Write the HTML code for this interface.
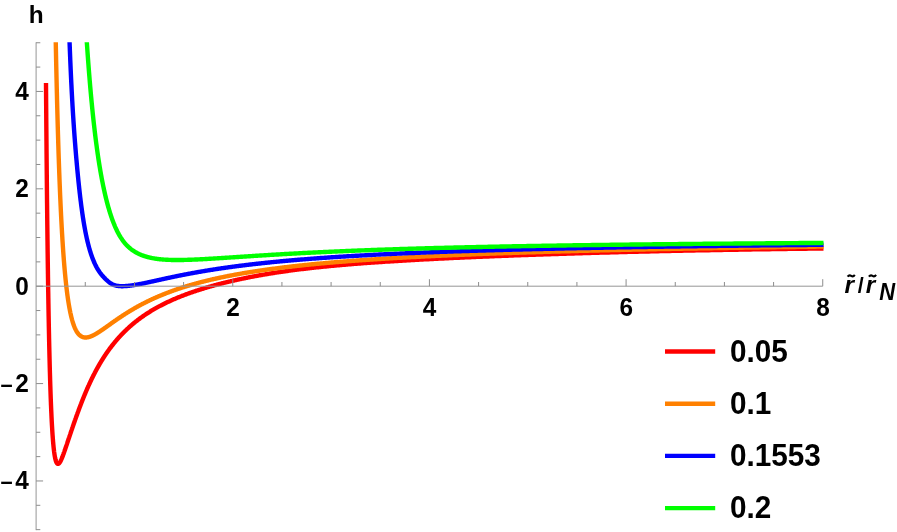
<!DOCTYPE html>
<html><head><meta charset="utf-8"><title>plot</title>
<style>html,body{margin:0;padding:0;background:#fff;}svg{display:block;will-change:transform;}</style></head>
<body><svg width="897" height="532" viewBox="0 0 897 532">
<rect width="897" height="532" fill="#fff"/>
<clipPath id="c"><rect x="30" y="42.3" width="900" height="489.7"/></clipPath>
<g clip-path="url(#c)" fill="none" stroke-width="4.40" stroke-linejoin="round" stroke-linecap="butt">
<path d="M46.00,83.10 L46.00,83.87 L46.04,88.86 L46.08,93.80 L46.11,98.69 L46.15,103.54 L46.19,108.33 L46.23,113.08 L46.26,117.79 L46.30,122.44 L46.34,127.05 L46.38,131.62 L46.42,136.14 L46.46,140.61 L46.50,145.04 L46.53,149.42 L46.57,153.76 L46.61,158.06 L46.65,162.31 L46.69,166.52 L46.73,170.69 L46.77,174.81 L46.81,178.89 L46.85,182.93 L46.89,186.93 L46.93,190.88 L46.97,194.80 L47.01,198.67 L47.05,202.51 L47.10,206.30 L47.14,210.05 L47.18,213.77 L47.22,217.44 L47.26,221.08 L47.30,224.68 L47.35,228.24 L47.39,231.76 L47.43,235.24 L47.47,238.69 L47.52,242.10 L47.56,245.47 L47.60,248.80 L47.64,252.10 L47.69,255.37 L47.73,258.59 L47.77,261.78 L47.82,264.94 L47.86,268.06 L47.91,271.15 L47.95,274.20 L47.99,277.22 L48.04,280.20 L48.08,283.15 L48.13,286.07 L48.17,288.95 L48.22,291.80 L48.27,294.62 L48.31,297.41 L48.36,300.16 L48.40,302.88 L48.45,305.57 L48.49,308.23 L48.54,310.86 L48.59,313.46 L48.63,316.02 L48.68,318.56 L48.73,321.06 L48.78,323.54 L48.82,325.99 L48.87,328.40 L48.92,330.79 L48.97,333.15 L49.02,335.48 L49.06,337.78 L49.11,340.05 L49.16,342.30 L49.21,344.51 L49.26,346.70 L49.31,348.86 L49.36,351.00 L49.41,353.11 L49.46,355.19 L49.51,357.24 L49.56,359.27 L49.61,361.27 L49.66,363.24 L49.71,365.19 L49.76,367.12 L49.81,369.02 L49.86,370.89 L49.92,372.74 L49.97,374.56 L50.02,376.36 L50.07,378.14 L50.12,379.89 L50.18,381.62 L50.23,383.32 L50.28,385.00 L50.34,386.66 L50.39,388.29 L50.44,389.90 L50.50,391.49 L50.55,393.06 L50.61,394.60 L50.66,396.12 L50.71,397.62 L50.77,399.10 L50.82,400.55 L50.88,401.99 L50.93,403.40 L50.99,404.79 L51.05,406.16 L51.10,407.52 L51.16,408.85 L51.22,410.15 L51.27,411.44 L51.33,412.71 L51.39,413.96 L51.44,415.19 L51.50,416.40 L51.56,417.59 L51.62,418.77 L51.67,419.92 L51.73,421.05 L51.79,422.17 L51.85,423.27 L51.91,424.34 L51.97,425.40 L52.03,426.45 L52.09,427.47 L52.15,428.48 L52.21,429.47 L52.27,430.44 L52.33,431.39 L52.39,432.33 L52.45,433.25 L52.51,434.16 L52.57,435.04 L52.64,435.92 L52.70,436.77 L52.76,437.61 L52.82,438.43 L52.89,439.24 L52.95,440.03 L53.01,440.80 L53.07,441.56 L53.14,442.31 L53.20,443.03 L53.27,443.75 L53.33,444.45 L53.40,445.13 L53.46,445.80 L53.53,446.45 L53.59,447.10 L53.66,447.72 L53.72,448.33 L53.79,448.93 L53.85,449.52 L53.92,450.09 L53.99,450.64 L54.06,451.19 L54.12,451.72 L54.19,452.23 L54.26,452.74 L54.33,453.23 L54.39,453.70 L54.46,454.17 L54.53,454.62 L54.60,455.06 L54.67,455.49 L54.74,455.90 L54.81,456.30 L54.88,456.69 L54.95,457.07 L55.02,457.44 L55.09,457.79 L55.16,458.14 L55.24,458.47 L55.31,458.79 L55.38,459.10 L55.45,459.40 L55.52,459.69 L55.60,459.96 L55.67,460.23 L55.74,460.48 L55.82,460.73 L55.89,460.96 L55.97,461.19 L56.04,461.40 L56.11,461.61 L56.19,461.80 L56.26,461.99 L56.34,462.16 L56.42,462.33 L56.49,462.48 L56.57,462.63 L56.65,462.77 L56.72,462.90 L56.80,463.02 L56.88,463.13 L56.96,463.24 L57.03,463.33 L57.11,463.42 L57.19,463.50 L57.27,463.57 L57.35,463.63 L57.43,463.69 L57.51,463.73 L57.59,463.77 L57.67,463.80 L57.75,463.83 L57.83,463.84 L57.91,463.85 L58.00,463.85 L58.08,463.85 L58.16,463.84 L58.24,463.82 L58.33,463.79 L58.41,463.76 L58.49,463.72 L58.58,463.67 L58.66,463.62 L58.75,463.56 L58.83,463.50 L58.92,463.43 L59.00,463.35 L59.09,463.27 L59.17,463.18 L59.26,463.08 L59.35,462.98 L59.43,462.88 L59.52,462.76 L59.61,462.65 L59.70,462.52 L59.79,462.39 L59.88,462.26 L59.96,462.12 L60.05,461.98 L60.14,461.83 L60.23,461.67 L60.32,461.52 L60.42,461.35 L60.51,461.18 L60.60,461.01 L60.69,460.83 L60.78,460.65 L60.87,460.46 L60.97,460.27 L61.06,460.08 L61.15,459.88 L61.25,459.67 L61.34,459.47 L61.44,459.25 L61.53,459.04 L61.63,458.82 L61.72,458.59 L61.82,458.37 L61.92,458.14 L62.01,457.90 L62.11,457.66 L62.21,457.42 L62.31,457.17 L62.40,456.92 L62.50,456.67 L62.60,456.42 L62.70,456.16 L62.80,455.89 L62.90,455.63 L63.00,455.36 L63.10,455.09 L63.20,454.81 L63.31,454.54 L63.41,454.26 L63.51,453.97 L63.61,453.69 L63.72,453.40 L63.82,453.11 L63.92,452.81 L64.03,452.52 L64.13,452.22 L64.24,451.92 L64.34,451.62 L64.45,451.31 L64.56,451.00 L64.66,450.69 L64.77,450.38 L64.88,450.07 L64.98,449.75 L65.09,449.43 L65.20,449.11 L65.31,448.79 L65.42,448.47 L65.53,448.14 L65.64,447.82 L65.75,447.49 L65.86,447.16 L65.97,446.83 L66.09,446.49 L66.20,446.16 L66.31,445.82 L66.42,445.48 L66.54,445.15 L66.65,444.80 L66.77,444.46 L66.88,444.12 L67.00,443.78 L67.11,443.43 L67.23,443.08 L67.35,442.73 L67.46,442.38 L67.58,442.03 L67.70,441.68 L67.82,441.32 L67.94,440.97 L68.06,440.61 L68.18,440.25 L68.30,439.90 L68.42,439.53 L68.54,439.17 L68.66,438.81 L68.78,438.45 L68.90,438.08 L69.03,437.71 L69.15,437.34 L69.28,436.98 L69.40,436.60 L69.52,436.23 L69.65,435.86 L69.78,435.49 L69.90,435.11 L70.03,434.73 L70.16,434.36 L70.28,433.98 L70.41,433.60 L70.54,433.22 L70.67,432.83 L70.80,432.45 L70.93,432.07 L71.06,431.68 L71.19,431.29 L71.32,430.91 L71.46,430.52 L71.59,430.13 L71.72,429.74 L71.85,429.34 L71.99,428.95 L72.12,428.56 L72.26,428.16 L72.39,427.77 L72.53,427.37 L72.67,426.97 L72.80,426.57 L72.94,426.17 L73.08,425.77 L73.22,425.37 L73.36,424.97 L73.50,424.56 L73.64,424.16 L73.78,423.75 L73.92,423.35 L74.06,422.94 L74.20,422.53 L74.35,422.12 L74.49,421.71 L74.63,421.30 L74.78,420.89 L74.92,420.48 L75.07,420.06 L75.22,419.65 L75.36,419.23 L75.51,418.82 L75.66,418.40 L75.81,417.99 L75.95,417.57 L76.10,417.15 L76.25,416.73 L76.40,416.31 L76.56,415.89 L76.71,415.47 L76.86,415.05 L77.01,414.62 L77.17,414.20 L77.32,413.77 L77.47,413.35 L77.63,412.92 L77.79,412.50 L77.94,412.07 L78.10,411.64 L78.26,411.22 L78.41,410.79 L78.57,410.36 L78.73,409.93 L78.89,409.50 L79.05,409.07 L79.21,408.64 L79.38,408.20 L79.54,407.77 L79.70,407.34 L79.86,406.90 L80.03,406.47 L80.19,406.04 L80.36,405.60 L80.52,405.17 L80.69,404.73 L80.86,404.29 L81.03,403.86 L81.19,403.42 L81.36,402.98 L81.53,402.54 L81.70,402.11 L81.88,401.67 L82.05,401.23 L82.22,400.79 L82.39,400.35 L82.57,399.91 L82.74,399.48 L82.91,399.04 L83.09,398.60 L83.27,398.16 L83.44,397.72 L83.62,397.28 L83.80,396.84 L83.98,396.40 L84.16,395.96 L84.34,395.52 L84.52,395.08 L84.70,394.64 L84.88,394.20 L85.07,393.76 L85.25,393.32 L85.43,392.88 L85.62,392.44 L85.80,392.00 L85.99,391.56 L86.18,391.13 L86.37,390.69 L86.55,390.25 L86.74,389.81 L86.93,389.37 L87.12,388.93 L87.32,388.50 L87.51,388.06 L87.70,387.62 L87.89,387.18 L88.09,386.75 L88.28,386.31 L88.48,385.87 L88.68,385.44 L88.87,385.00 L89.07,384.57 L89.27,384.13 L89.47,383.70 L89.67,383.27 L89.87,382.83 L90.07,382.40 L90.27,381.97 L90.48,381.53 L90.68,381.10 L90.89,380.67 L91.09,380.24 L91.30,379.81 L91.50,379.38 L91.71,378.95 L91.92,378.52 L92.13,378.09 L92.34,377.67 L92.55,377.24 L92.76,376.81 L92.98,376.38 L93.19,375.96 L93.40,375.53 L93.62,375.11 L93.83,374.68 L94.05,374.26 L94.27,373.84 L94.49,373.42 L94.70,372.99 L94.92,372.57 L95.14,372.15 L95.37,371.73 L95.59,371.31 L95.81,370.90 L96.04,370.48 L96.26,370.06 L96.49,369.64 L96.71,369.23 L96.94,368.81 L97.17,368.40 L97.40,367.99 L97.63,367.57 L97.86,367.16 L98.09,366.75 L98.32,366.34 L98.55,365.93 L98.79,365.52 L99.02,365.11 L99.26,364.70 L99.50,364.29 L99.73,363.89 L99.97,363.48 L100.21,363.08 L100.45,362.67 L100.69,362.27 L100.94,361.87 L101.18,361.47 L101.42,361.07 L101.67,360.67 L101.92,360.27 L102.16,359.87 L102.41,359.47 L102.66,359.07 L102.91,358.68 L103.16,358.28 L103.41,357.89 L103.66,357.49 L103.92,357.10 L104.17,356.71 L104.43,356.32 L104.68,355.93 L104.94,355.54 L105.20,355.15 L105.46,354.76 L105.72,354.38 L105.98,353.99 L106.24,353.61 L106.50,353.22 L106.77,352.84 L107.03,352.46 L107.30,352.07 L107.56,351.69 L107.83,351.31 L108.10,350.94 L108.37,350.56 L108.64,350.18 L108.92,349.80 L109.19,349.43 L109.46,349.06 L109.74,348.68 L110.01,348.31 L110.29,347.94 L110.57,347.57 L110.85,347.20 L111.13,346.83 L111.41,346.46 L111.69,346.09 L111.98,345.73 L112.26,345.36 L112.55,345.00 L112.83,344.64 L113.12,344.27 L113.41,343.91 L113.70,343.55 L113.99,343.19 L114.28,342.83 L114.58,342.48 L114.87,342.12 L115.17,341.76 L115.46,341.41 L115.76,341.06 L116.06,340.70 L116.36,340.35 L116.66,340.00 L116.96,339.65 L117.26,339.30 L117.57,338.95 L117.87,338.61 L118.18,338.26 L118.49,337.91 L118.80,337.57 L119.11,337.23 L119.42,336.88 L119.73,336.54 L120.05,336.20 L120.36,335.86 L120.68,335.52 L120.99,335.19 L121.31,334.85 L121.63,334.51 L121.95,334.18 L122.27,333.84 L122.60,333.51 L122.92,333.18 L123.25,332.85 L123.57,332.52 L123.90,332.19 L124.23,331.86 L124.56,331.53 L124.89,331.21 L125.23,330.88 L125.56,330.56 L125.90,330.24 L126.23,329.91 L126.57,329.59 L126.91,329.27 L127.25,328.95 L127.59,328.63 L127.94,328.32 L128.28,328.00 L128.63,327.68 L128.97,327.37 L129.32,327.06 L129.67,326.74 L130.02,326.43 L130.38,326.12 L130.73,325.81 L131.08,325.50 L131.44,325.19 L131.80,324.89 L132.16,324.58 L132.52,324.27 L132.88,323.97 L133.24,323.67 L133.61,323.36 L133.97,323.06 L134.34,322.76 L134.71,322.46 L135.08,322.16 L135.45,321.87 L135.82,321.57 L136.19,321.27 L136.57,320.98 L136.95,320.69 L137.32,320.39 L137.70,320.10 L138.09,319.81 L138.47,319.52 L138.85,319.23 L139.24,318.94 L139.62,318.65 L140.01,318.37 L140.40,318.08 L140.79,317.80 L141.19,317.51 L141.58,317.23 L141.98,316.95 L142.37,316.67 L142.77,316.39 L143.17,316.11 L143.57,315.83 L143.98,315.55 L144.38,315.28 L144.79,315.00 L145.19,314.73 L145.60,314.45 L146.01,314.18 L146.43,313.91 L146.84,313.64 L147.26,313.37 L147.67,313.10 L148.09,312.83 L148.51,312.56 L148.93,312.29 L149.36,312.03 L149.78,311.76 L150.21,311.50 L150.63,311.24 L151.06,310.98 L151.50,310.71 L151.93,310.45 L152.36,310.19 L152.80,309.94 L153.24,309.68 L153.68,309.42 L154.12,309.17 L154.56,308.91 L155.00,308.66 L155.45,308.40 L155.90,308.15 L156.35,307.90 L156.80,307.65 L157.25,307.40 L157.70,307.15 L158.16,306.90 L158.62,306.65 L159.08,306.40 L159.54,306.16 L160.00,305.91 L160.47,305.67 L160.93,305.42 L161.40,305.18 L161.87,304.94 L162.34,304.70 L162.82,304.46 L163.29,304.22 L163.77,303.98 L164.25,303.74 L164.73,303.50 L165.21,303.26 L165.69,303.03 L166.18,302.79 L166.67,302.56 L167.16,302.32 L167.65,302.09 L168.14,301.86 L168.64,301.63 L169.14,301.40 L169.63,301.17 L170.13,300.94 L170.64,300.71 L171.14,300.48 L171.65,300.25 L172.16,300.03 L172.67,299.80 L173.18,299.57 L173.69,299.35 L174.21,299.13 L174.73,298.90 L175.25,298.68 L175.77,298.46 L176.29,298.24 L176.82,298.02 L177.35,297.80 L177.88,297.58 L178.41,297.36 L178.94,297.14 L179.48,296.93 L180.02,296.71 L180.55,296.49 L181.10,296.28 L181.64,296.06 L182.19,295.85 L182.73,295.64 L183.28,295.42 L183.84,295.21 L184.39,295.00 L184.95,294.79 L185.50,294.58 L186.06,294.37 L186.63,294.16 L187.19,293.96 L187.76,293.75 L188.33,293.54 L188.90,293.34 L189.47,293.13 L190.05,292.93 L190.62,292.72 L191.20,292.52 L191.79,292.32 L192.37,292.11 L192.96,291.91 L193.54,291.71 L194.13,291.51 L194.73,291.31 L195.32,291.11 L195.92,290.91 L196.52,290.71 L197.12,290.52 L197.72,290.32 L198.33,290.12 L198.94,289.93 L199.55,289.73 L200.16,289.54 L200.78,289.34 L201.39,289.15 L202.01,288.96 L202.64,288.77 L203.26,288.57 L203.89,288.38 L204.52,288.19 L205.15,288.00 L205.78,287.81 L206.42,287.62 L207.06,287.44 L207.70,287.25 L208.34,287.06 L208.99,286.87 L209.64,286.69 L210.29,286.50 L210.94,286.32 L211.60,286.13 L212.26,285.95 L212.92,285.77 L213.58,285.58 L214.25,285.40 L214.91,285.22 L215.58,285.04 L216.26,284.86 L216.93,284.68 L217.61,284.50 L218.29,284.32 L218.97,284.14 L219.66,283.96 L220.35,283.79 L221.04,283.61 L221.73,283.43 L222.43,283.26 L223.13,283.08 L223.83,282.91 L224.53,282.73 L225.24,282.56 L225.95,282.39 L226.66,282.21 L227.38,282.04 L228.09,281.87 L228.81,281.70 L229.54,281.53 L230.26,281.36 L230.99,281.19 L231.72,281.02 L232.46,280.85 L233.19,280.68 L233.93,280.51 L234.67,280.35 L235.42,280.18 L236.17,280.01 L236.92,279.85 L237.67,279.68 L238.42,279.52 L239.18,279.35 L239.95,279.19 L240.71,279.03 L241.48,278.87 L242.25,278.70 L243.02,278.54 L243.80,278.38 L244.58,278.22 L245.36,278.06 L246.14,277.90 L246.93,277.74 L247.72,277.59 L248.51,277.43 L249.31,277.27 L250.11,277.12 L250.91,276.96 L251.72,276.80 L252.53,276.65 L253.34,276.50 L254.15,276.34 L254.97,276.19 L255.79,276.04 L256.62,275.89 L257.44,275.73 L258.27,275.58 L259.11,275.43 L259.94,275.28 L260.78,275.14 L261.63,274.99 L262.47,274.84 L263.32,274.69 L264.17,274.55 L265.03,274.40 L265.89,274.26 L266.75,274.11 L267.61,273.97 L268.48,273.82 L269.35,273.68 L270.23,273.54 L271.11,273.40 L271.99,273.26 L272.87,273.12 L273.76,272.98 L274.65,272.84 L275.55,272.70 L276.44,272.56 L277.35,272.42 L278.25,272.29 L279.16,272.15 L280.07,272.01 L280.98,271.88 L281.90,271.75 L282.83,271.61 L283.75,271.48 L284.68,271.35 L285.61,271.21 L286.55,271.08 L287.49,270.95 L288.43,270.82 L289.38,270.69 L290.33,270.56 L291.28,270.44 L292.24,270.31 L293.20,270.18 L294.16,270.06 L295.13,269.93 L296.10,269.81 L297.08,269.68 L298.05,269.56 L299.04,269.43 L300.02,269.31 L301.01,269.19 L302.01,269.07 L303.00,268.95 L304.00,268.83 L305.01,268.71 L306.02,268.59 L307.03,268.47 L308.05,268.35 L309.07,268.23 L310.09,268.12 L311.12,268.00 L312.15,267.89 L313.18,267.77 L314.22,267.66 L315.27,267.54 L316.31,267.43 L317.36,267.32 L318.42,267.20 L319.48,267.09 L320.54,266.98 L321.61,266.87 L322.68,266.76 L323.75,266.65 L324.83,266.55 L325.91,266.44 L327.00,266.33 L328.09,266.22 L329.19,266.12 L330.29,266.01 L331.39,265.91 L332.50,265.80 L333.61,265.70 L334.73,265.60 L335.85,265.49 L336.97,265.39 L338.10,265.29 L339.23,265.19 L340.37,265.09 L341.51,264.99 L342.65,264.89 L343.80,264.79 L344.96,264.69 L346.12,264.59 L347.28,264.50 L348.45,264.40 L349.62,264.30 L350.79,264.21 L351.97,264.11 L353.16,264.01 L354.35,263.92 L355.54,263.83 L356.74,263.73 L357.94,263.64 L359.15,263.55 L360.36,263.45 L361.58,263.36 L362.80,263.27 L364.02,263.18 L365.25,263.09 L366.49,263.00 L367.73,262.91 L368.97,262.82 L370.22,262.73 L371.47,262.64 L372.73,262.55 L373.99,262.46 L375.26,262.37 L376.53,262.29 L377.81,262.20 L379.09,262.11 L380.37,262.03 L381.67,261.94 L382.96,261.85 L384.26,261.77 L385.57,261.68 L386.88,261.60 L388.19,261.51 L389.51,261.43 L390.84,261.35 L392.17,261.26 L393.51,261.18 L394.85,261.10 L396.19,261.01 L397.54,260.93 L398.90,260.85 L400.26,260.77 L401.62,260.69 L403.00,260.61 L404.37,260.53 L405.75,260.44 L407.14,260.36 L408.53,260.28 L409.93,260.20 L411.33,260.13 L412.74,260.05 L414.15,259.97 L415.57,259.89 L416.99,259.81 L418.42,259.73 L419.85,259.65 L421.29,259.58 L422.74,259.50 L424.19,259.42 L425.64,259.34 L427.10,259.27 L428.57,259.19 L430.04,259.11 L431.52,259.04 L433.00,258.96 L434.49,258.89 L435.98,258.81 L437.48,258.74 L438.99,258.66 L440.50,258.59 L442.02,258.51 L443.54,258.44 L445.07,258.36 L446.60,258.29 L448.14,258.22 L449.69,258.14 L451.24,258.07 L452.79,258.00 L454.36,257.92 L455.93,257.85 L457.50,257.78 L459.08,257.71 L460.67,257.63 L462.26,257.56 L463.86,257.49 L465.46,257.42 L467.07,257.35 L468.69,257.27 L470.31,257.20 L471.94,257.13 L473.57,257.06 L475.21,256.99 L476.86,256.92 L478.51,256.85 L480.17,256.78 L481.84,256.71 L483.51,256.64 L485.19,256.57 L486.87,256.50 L488.56,256.43 L490.26,256.36 L491.96,256.29 L493.67,256.22 L495.39,256.16 L497.11,256.09 L498.84,256.02 L500.58,255.95 L502.32,255.88 L504.07,255.82 L505.82,255.75 L507.58,255.68 L509.35,255.61 L511.13,255.55 L512.91,255.48 L514.70,255.41 L516.49,255.35 L518.29,255.28 L520.10,255.21 L521.92,255.15 L523.74,255.08 L525.57,255.02 L527.40,254.95 L529.25,254.89 L531.10,254.82 L532.95,254.76 L534.82,254.69 L536.69,254.63 L538.56,254.56 L540.45,254.50 L542.34,254.43 L544.24,254.37 L546.14,254.31 L548.06,254.24 L549.98,254.18 L551.90,254.12 L553.84,254.05 L555.78,253.99 L557.73,253.93 L559.69,253.87 L561.65,253.80 L563.62,253.74 L565.60,253.68 L567.58,253.62 L569.58,253.56 L571.58,253.50 L573.59,253.43 L575.60,253.37 L577.63,253.31 L579.66,253.25 L581.70,253.19 L583.74,253.13 L585.80,253.07 L587.86,253.01 L589.93,252.95 L592.00,252.89 L594.09,252.83 L596.18,252.77 L598.28,252.72 L600.39,252.66 L602.51,252.60 L604.63,252.54 L606.76,252.48 L608.90,252.43 L611.05,252.37 L613.21,252.31 L615.37,252.25 L617.55,252.20 L619.73,252.14 L621.91,252.08 L624.11,252.03 L626.32,251.97 L628.53,251.92 L630.75,251.86 L632.98,251.81 L635.22,251.75 L637.47,251.70 L639.72,251.64 L641.99,251.59 L644.26,251.53 L646.54,251.48 L648.83,251.43 L651.13,251.37 L653.43,251.32 L655.75,251.27 L658.07,251.22 L660.41,251.16 L662.75,251.11 L665.10,251.06 L667.46,251.01 L669.82,250.96 L672.20,250.91 L674.59,250.86 L676.98,250.81 L679.39,250.76 L681.80,250.71 L684.22,250.66 L686.65,250.61 L689.09,250.56 L691.54,250.51 L694.00,250.46 L696.46,250.42 L698.94,250.37 L701.43,250.32 L703.92,250.27 L706.43,250.23 L708.94,250.18 L711.46,250.13 L714.00,250.09 L716.54,250.04 L719.09,249.99 L721.65,249.95 L724.22,249.90 L726.81,249.86 L729.40,249.81 L732.00,249.77 L734.61,249.73 L737.23,249.68 L739.86,249.64 L742.49,249.60 L745.14,249.55 L747.80,249.51 L750.47,249.47 L753.15,249.42 L755.84,249.38 L758.54,249.34 L761.25,249.30 L763.97,249.26 L766.70,249.22 L769.44,249.18 L772.19,249.14 L774.95,249.10 L777.72,249.06 L780.50,249.02 L783.29,248.98 L786.10,248.94 L788.91,248.90 L791.73,248.86 L794.57,248.83 L797.41,248.79 L800.27,248.75 L803.13,248.71 L806.01,248.68 L808.90,248.64 L811.79,248.60 L814.70,248.57 L817.62,248.53 L820.56,248.49 L823.50,248.46" stroke="#ff0000"/>
<path d="M55.52,30.23 L55.60,34.04 L55.67,37.81 L55.74,41.55 L55.82,45.25 L55.89,48.91 L55.97,52.53 L56.04,56.12 L56.11,59.67 L56.19,63.18 L56.26,66.66 L56.34,70.10 L56.42,73.51 L56.49,76.88 L56.57,80.22 L56.65,83.53 L56.72,86.80 L56.80,90.03 L56.88,93.24 L56.96,96.41 L57.03,99.55 L57.11,102.65 L57.19,105.73 L57.27,108.77 L57.35,111.78 L57.43,114.75 L57.51,117.70 L57.59,120.62 L57.67,123.50 L57.75,126.36 L57.83,129.19 L57.91,131.98 L58.00,134.75 L58.08,137.49 L58.16,140.19 L58.24,142.87 L58.33,145.52 L58.41,148.15 L58.49,150.74 L58.58,153.31 L58.66,155.85 L58.75,158.36 L58.83,160.85 L58.92,163.30 L59.00,165.74 L59.09,168.14 L59.17,170.52 L59.26,172.87 L59.35,175.20 L59.43,177.50 L59.52,179.78 L59.61,182.03 L59.70,184.26 L59.79,186.46 L59.88,188.64 L59.96,190.80 L60.05,192.93 L60.14,195.03 L60.23,197.12 L60.32,199.18 L60.42,201.22 L60.51,203.23 L60.60,205.22 L60.69,207.19 L60.78,209.14 L60.87,211.06 L60.97,212.97 L61.06,214.85 L61.15,216.71 L61.25,218.55 L61.34,220.36 L61.44,222.16 L61.53,223.94 L61.63,225.69 L61.72,227.43 L61.82,229.14 L61.92,230.84 L62.01,232.51 L62.11,234.17 L62.21,235.80 L62.31,237.42 L62.40,239.02 L62.50,240.60 L62.60,242.16 L62.70,243.70 L62.80,245.22 L62.90,246.73 L63.00,248.21 L63.10,249.68 L63.20,251.13 L63.31,252.57 L63.41,253.98 L63.51,255.38 L63.61,256.76 L63.72,258.13 L63.82,259.47 L63.92,260.80 L64.03,262.12 L64.13,263.42 L64.24,264.70 L64.34,265.97 L64.45,267.22 L64.56,268.45 L64.66,269.67 L64.77,270.87 L64.88,272.06 L64.98,273.23 L65.09,274.39 L65.20,275.53 L65.31,276.66 L65.42,277.77 L65.53,278.87 L65.64,279.96 L65.75,281.03 L65.86,282.08 L65.97,283.12 L66.09,284.15 L66.20,285.17 L66.31,286.17 L66.42,287.15 L66.54,288.13 L66.65,289.09 L66.77,290.04 L66.88,290.97 L67.00,291.89 L67.11,292.80 L67.23,293.70 L67.35,294.58 L67.46,295.46 L67.58,296.31 L67.70,297.16 L67.82,298.00 L67.94,298.82 L68.06,299.63 L68.18,300.43 L68.30,301.22 L68.42,302.00 L68.54,302.76 L68.66,303.52 L68.78,304.26 L68.90,304.99 L69.03,305.71 L69.15,306.42 L69.28,307.12 L69.40,307.81 L69.52,308.49 L69.65,309.16 L69.78,309.82 L69.90,310.46 L70.03,311.10 L70.16,311.73 L70.28,312.35 L70.41,312.95 L70.54,313.55 L70.67,314.14 L70.80,314.72 L70.93,315.29 L71.06,315.85 L71.19,316.40 L71.32,316.94 L71.46,317.47 L71.59,317.99 L71.72,318.51 L71.85,319.01 L71.99,319.51 L72.12,320.00 L72.26,320.48 L72.39,320.95 L72.53,321.41 L72.67,321.87 L72.80,322.31 L72.94,322.75 L73.08,323.18 L73.22,323.60 L73.36,324.02 L73.50,324.42 L73.64,324.82 L73.78,325.21 L73.92,325.60 L74.06,325.97 L74.20,326.34 L74.35,326.70 L74.49,327.06 L74.63,327.40 L74.78,327.74 L74.92,328.07 L75.07,328.40 L75.22,328.72 L75.36,329.03 L75.51,329.33 L75.66,329.63 L75.81,329.92 L75.95,330.21 L76.10,330.48 L76.25,330.76 L76.40,331.02 L76.56,331.28 L76.71,331.53 L76.86,331.78 L77.01,332.02 L77.17,332.25 L77.32,332.48 L77.47,332.70 L77.63,332.92 L77.79,333.13 L77.94,333.34 L78.10,333.54 L78.26,333.73 L78.41,333.92 L78.57,334.10 L78.73,334.28 L78.89,334.45 L79.05,334.62 L79.21,334.78 L79.38,334.93 L79.54,335.08 L79.70,335.23 L79.86,335.37 L80.03,335.50 L80.19,335.64 L80.36,335.76 L80.52,335.88 L80.69,336.00 L80.86,336.11 L81.03,336.22 L81.19,336.32 L81.36,336.42 L81.53,336.51 L81.70,336.60 L81.88,336.68 L82.05,336.76 L82.22,336.84 L82.39,336.91 L82.57,336.97 L82.74,337.04 L82.91,337.09 L83.09,337.15 L83.27,337.20 L83.44,337.24 L83.62,337.29 L83.80,337.33 L83.98,337.36 L84.16,337.39 L84.34,337.42 L84.52,337.44 L84.70,337.46 L84.88,337.48 L85.07,337.49 L85.25,337.50 L85.43,337.50 L85.62,337.50 L85.80,337.50 L85.99,337.50 L86.18,337.49 L86.37,337.47 L86.55,337.46 L86.74,337.44 L86.93,337.42 L87.12,337.39 L87.32,337.37 L87.51,337.33 L87.70,337.30 L87.89,337.26 L88.09,337.22 L88.28,337.18 L88.48,337.13 L88.68,337.08 L88.87,337.03 L89.07,336.98 L89.27,336.92 L89.47,336.86 L89.67,336.80 L89.87,336.73 L90.07,336.66 L90.27,336.59 L90.48,336.52 L90.68,336.44 L90.89,336.37 L91.09,336.28 L91.30,336.20 L91.50,336.11 L91.71,336.03 L91.92,335.94 L92.13,335.84 L92.34,335.75 L92.55,335.65 L92.76,335.55 L92.98,335.45 L93.19,335.34 L93.40,335.24 L93.62,335.13 L93.83,335.02 L94.05,334.91 L94.27,334.79 L94.49,334.68 L94.70,334.56 L94.92,334.44 L95.14,334.31 L95.37,334.19 L95.59,334.06 L95.81,333.94 L96.04,333.81 L96.26,333.67 L96.49,333.54 L96.71,333.41 L96.94,333.27 L97.17,333.13 L97.40,332.99 L97.63,332.85 L97.86,332.70 L98.09,332.56 L98.32,332.41 L98.55,332.26 L98.79,332.11 L99.02,331.96 L99.26,331.81 L99.50,331.66 L99.73,331.50 L99.97,331.34 L100.21,331.18 L100.45,331.02 L100.69,330.86 L100.94,330.70 L101.18,330.54 L101.42,330.37 L101.67,330.20 L101.92,330.04 L102.16,329.87 L102.41,329.70 L102.66,329.52 L102.91,329.35 L103.16,329.18 L103.41,329.00 L103.66,328.83 L103.92,328.65 L104.17,328.47 L104.43,328.29 L104.68,328.11 L104.94,327.93 L105.20,327.75 L105.46,327.57 L105.72,327.38 L105.98,327.20 L106.24,327.01 L106.50,326.83 L106.77,326.64 L107.03,326.45 L107.30,326.26 L107.56,326.07 L107.83,325.88 L108.10,325.69 L108.37,325.49 L108.64,325.30 L108.92,325.11 L109.19,324.91 L109.46,324.72 L109.74,324.52 L110.01,324.33 L110.29,324.13 L110.57,323.93 L110.85,323.73 L111.13,323.53 L111.41,323.33 L111.69,323.13 L111.98,322.93 L112.26,322.73 L112.55,322.53 L112.83,322.33 L113.12,322.12 L113.41,321.92 L113.70,321.72 L113.99,321.51 L114.28,321.31 L114.58,321.10 L114.87,320.89 L115.17,320.69 L115.46,320.48 L115.76,320.28 L116.06,320.07 L116.36,319.86 L116.66,319.65 L116.96,319.44 L117.26,319.24 L117.57,319.03 L117.87,318.82 L118.18,318.61 L118.49,318.40 L118.80,318.19 L119.11,317.98 L119.42,317.77 L119.73,317.56 L120.05,317.35 L120.36,317.14 L120.68,316.92 L120.99,316.71 L121.31,316.50 L121.63,316.29 L121.95,316.08 L122.27,315.86 L122.60,315.65 L122.92,315.44 L123.25,315.23 L123.57,315.01 L123.90,314.80 L124.23,314.59 L124.56,314.38 L124.89,314.16 L125.23,313.95 L125.56,313.74 L125.90,313.52 L126.23,313.31 L126.57,313.10 L126.91,312.88 L127.25,312.67 L127.59,312.46 L127.94,312.24 L128.28,312.03 L128.63,311.82 L128.97,311.61 L129.32,311.39 L129.67,311.18 L130.02,310.97 L130.38,310.75 L130.73,310.54 L131.08,310.33 L131.44,310.11 L131.80,309.90 L132.16,309.69 L132.52,309.48 L132.88,309.26 L133.24,309.05 L133.61,308.84 L133.97,308.63 L134.34,308.42 L134.71,308.20 L135.08,307.99 L135.45,307.78 L135.82,307.57 L136.19,307.36 L136.57,307.15 L136.95,306.94 L137.32,306.73 L137.70,306.52 L138.09,306.31 L138.47,306.10 L138.85,305.89 L139.24,305.68 L139.62,305.47 L140.01,305.26 L140.40,305.05 L140.79,304.84 L141.19,304.63 L141.58,304.42 L141.98,304.21 L142.37,304.01 L142.77,303.80 L143.17,303.59 L143.57,303.39 L143.98,303.18 L144.38,302.97 L144.79,302.77 L145.19,302.56 L145.60,302.35 L146.01,302.15 L146.43,301.94 L146.84,301.74 L147.26,301.53 L147.67,301.33 L148.09,301.13 L148.51,300.92 L148.93,300.72 L149.36,300.52 L149.78,300.31 L150.21,300.11 L150.63,299.91 L151.06,299.71 L151.50,299.51 L151.93,299.31 L152.36,299.10 L152.80,298.90 L153.24,298.70 L153.68,298.50 L154.12,298.31 L154.56,298.11 L155.00,297.91 L155.45,297.71 L155.90,297.51 L156.35,297.31 L156.80,297.12 L157.25,296.92 L157.70,296.72 L158.16,296.53 L158.62,296.33 L159.08,296.14 L159.54,295.94 L160.00,295.75 L160.47,295.55 L160.93,295.36 L161.40,295.17 L161.87,294.97 L162.34,294.78 L162.82,294.59 L163.29,294.40 L163.77,294.21 L164.25,294.02 L164.73,293.83 L165.21,293.64 L165.69,293.45 L166.18,293.26 L166.67,293.07 L167.16,292.88 L167.65,292.69 L168.14,292.50 L168.64,292.32 L169.14,292.13 L169.63,291.94 L170.13,291.76 L170.64,291.57 L171.14,291.39 L171.65,291.20 L172.16,291.02 L172.67,290.84 L173.18,290.65 L173.69,290.47 L174.21,290.29 L174.73,290.11 L175.25,289.92 L175.77,289.74 L176.29,289.56 L176.82,289.38 L177.35,289.20 L177.88,289.02 L178.41,288.84 L178.94,288.67 L179.48,288.49 L180.02,288.31 L180.55,288.13 L181.10,287.96 L181.64,287.78 L182.19,287.61 L182.73,287.43 L183.28,287.26 L183.84,287.08 L184.39,286.91 L184.95,286.73 L185.50,286.56 L186.06,286.39 L186.63,286.22 L187.19,286.05 L187.76,285.87 L188.33,285.70 L188.90,285.53 L189.47,285.36 L190.05,285.19 L190.62,285.03 L191.20,284.86 L191.79,284.69 L192.37,284.52 L192.96,284.36 L193.54,284.19 L194.13,284.02 L194.73,283.86 L195.32,283.69 L195.92,283.53 L196.52,283.36 L197.12,283.20 L197.72,283.04 L198.33,282.87 L198.94,282.71 L199.55,282.55 L200.16,282.39 L200.78,282.23 L201.39,282.07 L202.01,281.91 L202.64,281.75 L203.26,281.59 L203.89,281.43 L204.52,281.27 L205.15,281.11 L205.78,280.96 L206.42,280.80 L207.06,280.64 L207.70,280.49 L208.34,280.33 L208.99,280.18 L209.64,280.02 L210.29,279.87 L210.94,279.72 L211.60,279.56 L212.26,279.41 L212.92,279.26 L213.58,279.11 L214.25,278.96 L214.91,278.81 L215.58,278.66 L216.26,278.51 L216.93,278.36 L217.61,278.21 L218.29,278.06 L218.97,277.91 L219.66,277.76 L220.35,277.62 L221.04,277.47 L221.73,277.32 L222.43,277.18 L223.13,277.03 L223.83,276.89 L224.53,276.75 L225.24,276.60 L225.95,276.46 L226.66,276.32 L227.38,276.17 L228.09,276.03 L228.81,275.89 L229.54,275.75 L230.26,275.61 L230.99,275.47 L231.72,275.33 L232.46,275.19 L233.19,275.05 L233.93,274.91 L234.67,274.77 L235.42,274.64 L236.17,274.50 L236.92,274.36 L237.67,274.23 L238.42,274.09 L239.18,273.96 L239.95,273.82 L240.71,273.69 L241.48,273.55 L242.25,273.42 L243.02,273.29 L243.80,273.15 L244.58,273.02 L245.36,272.89 L246.14,272.76 L246.93,272.63 L247.72,272.50 L248.51,272.37 L249.31,272.24 L250.11,272.11 L250.91,271.98 L251.72,271.85 L252.53,271.73 L253.34,271.60 L254.15,271.47 L254.97,271.35 L255.79,271.22 L256.62,271.09 L257.44,270.97 L258.27,270.84 L259.11,270.72 L259.94,270.60 L260.78,270.47 L261.63,270.35 L262.47,270.23 L263.32,270.11 L264.17,269.98 L265.03,269.86 L265.89,269.74 L266.75,269.62 L267.61,269.50 L268.48,269.38 L269.35,269.26 L270.23,269.14 L271.11,269.02 L271.99,268.91 L272.87,268.79 L273.76,268.67 L274.65,268.56 L275.55,268.44 L276.44,268.32 L277.35,268.21 L278.25,268.09 L279.16,267.98 L280.07,267.86 L280.98,267.75 L281.90,267.64 L282.83,267.52 L283.75,267.41 L284.68,267.30 L285.61,267.19 L286.55,267.08 L287.49,266.96 L288.43,266.85 L289.38,266.74 L290.33,266.63 L291.28,266.52 L292.24,266.41 L293.20,266.31 L294.16,266.20 L295.13,266.09 L296.10,265.98 L297.08,265.88 L298.05,265.77 L299.04,265.66 L300.02,265.56 L301.01,265.45 L302.01,265.35 L303.00,265.24 L304.00,265.14 L305.01,265.03 L306.02,264.93 L307.03,264.82 L308.05,264.72 L309.07,264.62 L310.09,264.52 L311.12,264.42 L312.15,264.31 L313.18,264.21 L314.22,264.11 L315.27,264.01 L316.31,263.91 L317.36,263.81 L318.42,263.71 L319.48,263.61 L320.54,263.52 L321.61,263.42 L322.68,263.32 L323.75,263.22 L324.83,263.13 L325.91,263.03 L327.00,262.93 L328.09,262.84 L329.19,262.74 L330.29,262.65 L331.39,262.55 L332.50,262.46 L333.61,262.36 L334.73,262.27 L335.85,262.17 L336.97,262.08 L338.10,261.99 L339.23,261.90 L340.37,261.80 L341.51,261.71 L342.65,261.62 L343.80,261.53 L344.96,261.44 L346.12,261.35 L347.28,261.26 L348.45,261.17 L349.62,261.08 L350.79,260.99 L351.97,260.90 L353.16,260.81 L354.35,260.72 L355.54,260.64 L356.74,260.55 L357.94,260.46 L359.15,260.37 L360.36,260.29 L361.58,260.20 L362.80,260.12 L364.02,260.03 L365.25,259.95 L366.49,259.86 L367.73,259.78 L368.97,259.69 L370.22,259.61 L371.47,259.52 L372.73,259.44 L373.99,259.36 L375.26,259.27 L376.53,259.19 L377.81,259.11 L379.09,259.03 L380.37,258.95 L381.67,258.86 L382.96,258.78 L384.26,258.70 L385.57,258.62 L386.88,258.54 L388.19,258.46 L389.51,258.38 L390.84,258.30 L392.17,258.23 L393.51,258.15 L394.85,258.07 L396.19,257.99 L397.54,257.91 L398.90,257.83 L400.26,257.76 L401.62,257.68 L403.00,257.60 L404.37,257.53 L405.75,257.45 L407.14,257.38 L408.53,257.30 L409.93,257.22 L411.33,257.15 L412.74,257.08 L414.15,257.00 L415.57,256.93 L416.99,256.85 L418.42,256.78 L419.85,256.71 L421.29,256.63 L422.74,256.56 L424.19,256.49 L425.64,256.41 L427.10,256.34 L428.57,256.27 L430.04,256.20 L431.52,256.13 L433.00,256.06 L434.49,255.99 L435.98,255.92 L437.48,255.85 L438.99,255.78 L440.50,255.71 L442.02,255.64 L443.54,255.57 L445.07,255.50 L446.60,255.43 L448.14,255.36 L449.69,255.29 L451.24,255.22 L452.79,255.16 L454.36,255.09 L455.93,255.02 L457.50,254.95 L459.08,254.89 L460.67,254.82 L462.26,254.76 L463.86,254.69 L465.46,254.62 L467.07,254.56 L468.69,254.49 L470.31,254.43 L471.94,254.36 L473.57,254.30 L475.21,254.23 L476.86,254.17 L478.51,254.11 L480.17,254.04 L481.84,253.98 L483.51,253.92 L485.19,253.85 L486.87,253.79 L488.56,253.73 L490.26,253.66 L491.96,253.60 L493.67,253.54 L495.39,253.48 L497.11,253.42 L498.84,253.36 L500.58,253.30 L502.32,253.23 L504.07,253.17 L505.82,253.11 L507.58,253.05 L509.35,252.99 L511.13,252.93 L512.91,252.87 L514.70,252.82 L516.49,252.76 L518.29,252.70 L520.10,252.64 L521.92,252.58 L523.74,252.52 L525.57,252.46 L527.40,252.41 L529.25,252.35 L531.10,252.29 L532.95,252.23 L534.82,252.18 L536.69,252.12 L538.56,252.06 L540.45,252.01 L542.34,251.95 L544.24,251.90 L546.14,251.84 L548.06,251.78 L549.98,251.73 L551.90,251.67 L553.84,251.62 L555.78,251.56 L557.73,251.51 L559.69,251.46 L561.65,251.40 L563.62,251.35 L565.60,251.29 L567.58,251.24 L569.58,251.19 L571.58,251.13 L573.59,251.08 L575.60,251.03 L577.63,250.97 L579.66,250.92 L581.70,250.87 L583.74,250.82 L585.80,250.77 L587.86,250.71 L589.93,250.66 L592.00,250.61 L594.09,250.56 L596.18,250.51 L598.28,250.46 L600.39,250.41 L602.51,250.36 L604.63,250.31 L606.76,250.26 L608.90,250.21 L611.05,250.16 L613.21,250.11 L615.37,250.06 L617.55,250.01 L619.73,249.96 L621.91,249.91 L624.11,249.86 L626.32,249.82 L628.53,249.77 L630.75,249.72 L632.98,249.67 L635.22,249.62 L637.47,249.58 L639.72,249.53 L641.99,249.48 L644.26,249.43 L646.54,249.39 L648.83,249.34 L651.13,249.29 L653.43,249.25 L655.75,249.20 L658.07,249.16 L660.41,249.11 L662.75,249.06 L665.10,249.02 L667.46,248.97 L669.82,248.93 L672.20,248.88 L674.59,248.84 L676.98,248.79 L679.39,248.75 L681.80,248.70 L684.22,248.66 L686.65,248.62 L689.09,248.57 L691.54,248.53 L694.00,248.49 L696.46,248.44 L698.94,248.40 L701.43,248.36 L703.92,248.31 L706.43,248.27 L708.94,248.23 L711.46,248.18 L714.00,248.14 L716.54,248.10 L719.09,248.06 L721.65,248.02 L724.22,247.97 L726.81,247.93 L729.40,247.89 L732.00,247.85 L734.61,247.81 L737.23,247.77 L739.86,247.73 L742.49,247.69 L745.14,247.65 L747.80,247.61 L750.47,247.56 L753.15,247.52 L755.84,247.48 L758.54,247.44 L761.25,247.41 L763.97,247.37 L766.70,247.33 L769.44,247.29 L772.19,247.25 L774.95,247.21 L777.72,247.17 L780.50,247.13 L783.29,247.09 L786.10,247.05 L788.91,247.02 L791.73,246.98 L794.57,246.94 L797.41,246.90 L800.27,246.86 L803.13,246.83 L806.01,246.79 L808.90,246.75 L811.79,246.71 L814.70,246.68 L817.62,246.64 L820.56,246.60 L823.50,246.57" stroke="#ff8000"/>
<path d="M69.15,30.48 L69.28,34.04 L69.40,37.54 L69.52,40.98 L69.65,44.36 L69.78,47.67 L69.90,50.93 L70.03,54.13 L70.16,57.28 L70.28,60.37 L70.41,63.41 L70.54,66.40 L70.67,69.33 L70.80,72.22 L70.93,75.06 L71.06,77.85 L71.19,80.60 L71.32,83.30 L71.46,85.96 L71.59,88.58 L71.72,91.15 L71.85,93.68 L71.99,96.18 L72.12,98.64 L72.26,101.06 L72.39,103.44 L72.53,105.79 L72.67,108.11 L72.80,110.39 L72.94,112.64 L73.08,114.86 L73.22,117.05 L73.36,119.21 L73.50,121.35 L73.64,123.45 L73.78,125.53 L73.92,127.58 L74.06,129.61 L74.20,131.62 L74.35,133.60 L74.49,135.56 L74.63,137.49 L74.78,139.41 L74.92,141.31 L75.07,143.19 L75.22,145.05 L75.36,146.89 L75.51,148.71 L75.66,150.52 L75.81,152.32 L75.95,154.09 L76.10,155.86 L76.25,157.61 L76.40,159.35 L76.56,161.07 L76.71,162.78 L76.86,164.48 L77.01,166.17 L77.17,167.84 L77.32,169.49 L77.47,171.14 L77.63,172.77 L77.79,174.38 L77.94,175.99 L78.10,177.57 L78.26,179.15 L78.41,180.71 L78.57,182.25 L78.73,183.78 L78.89,185.30 L79.05,186.80 L79.21,188.28 L79.38,189.76 L79.54,191.21 L79.70,192.66 L79.86,194.09 L80.03,195.50 L80.19,196.90 L80.36,198.28 L80.52,199.65 L80.69,201.00 L80.86,202.34 L81.03,203.66 L81.19,204.97 L81.36,206.26 L81.53,207.54 L81.70,208.80 L81.88,210.05 L82.05,211.28 L82.22,212.50 L82.39,213.70 L82.57,214.88 L82.74,216.06 L82.91,217.21 L83.09,218.35 L83.27,219.47 L83.44,220.58 L83.62,221.68 L83.80,222.75 L83.98,223.82 L84.16,224.87 L84.34,225.90 L84.52,226.92 L84.70,227.93 L84.88,228.92 L85.07,229.90 L85.25,230.86 L85.43,231.81 L85.62,232.75 L85.80,233.68 L85.99,234.59 L86.18,235.49 L86.37,236.37 L86.55,237.25 L86.74,238.11 L86.93,238.96 L87.12,239.79 L87.32,240.62 L87.51,241.43 L87.70,242.23 L87.89,243.02 L88.09,243.80 L88.28,244.57 L88.48,245.32 L88.68,246.07 L88.87,246.80 L89.07,247.52 L89.27,248.24 L89.47,248.94 L89.67,249.63 L89.87,250.31 L90.07,250.99 L90.27,251.65 L90.48,252.30 L90.68,252.94 L90.89,253.58 L91.09,254.20 L91.30,254.81 L91.50,255.42 L91.71,256.02 L91.92,256.60 L92.13,257.18 L92.34,257.75 L92.55,258.31 L92.76,258.86 L92.98,259.41 L93.19,259.94 L93.40,260.47 L93.62,260.99 L93.83,261.50 L94.05,262.00 L94.27,262.50 L94.49,262.99 L94.70,263.47 L94.92,263.94 L95.14,264.41 L95.37,264.86 L95.59,265.32 L95.81,265.76 L96.04,266.20 L96.26,266.63 L96.49,267.05 L96.71,267.47 L96.94,267.88 L97.17,268.28 L97.40,268.68 L97.63,269.07 L97.86,269.45 L98.09,269.83 L98.32,270.20 L98.55,270.57 L98.79,270.93 L99.02,271.28 L99.26,271.63 L99.50,271.97 L99.73,272.31 L99.97,272.64 L100.21,272.97 L100.45,273.29 L100.69,273.60 L100.94,273.91 L101.18,274.22 L101.42,274.52 L101.67,274.82 L101.92,275.11 L102.16,275.40 L102.41,275.69 L102.66,275.98 L102.91,276.26 L103.16,276.54 L103.41,276.81 L103.66,277.09 L103.92,277.36 L104.17,277.63 L104.43,277.90 L104.68,278.17 L104.94,278.43 L105.20,278.70 L105.46,278.96 L105.72,279.22 L105.98,279.47 L106.24,279.73 L106.50,279.98 L106.77,280.23 L107.03,280.47 L107.30,280.71 L107.56,280.95 L107.83,281.18 L108.10,281.41 L108.37,281.63 L108.64,281.85 L108.92,282.07 L109.19,282.28 L109.46,282.49 L109.74,282.69 L110.01,282.88 L110.29,283.07 L110.57,283.26 L110.85,283.43 L111.13,283.61 L111.41,283.77 L111.69,283.93 L111.98,284.09 L112.26,284.23 L112.55,284.37 L112.83,284.51 L113.12,284.64 L113.41,284.76 L113.70,284.87 L113.99,284.98 L114.28,285.09 L114.58,285.18 L114.87,285.28 L115.17,285.36 L115.46,285.45 L115.76,285.52 L116.06,285.59 L116.36,285.66 L116.66,285.72 L116.96,285.78 L117.26,285.83 L117.57,285.88 L117.87,285.93 L118.18,285.97 L118.49,286.01 L118.80,286.04 L119.11,286.07 L119.42,286.09 L119.73,286.12 L120.05,286.14 L120.36,286.15 L120.68,286.17 L120.99,286.18 L121.31,286.19 L121.63,286.19 L121.95,286.19 L122.27,286.19 L122.60,286.19 L122.92,286.19 L123.25,286.18 L123.57,286.17 L123.90,286.16 L124.23,286.15 L124.56,286.13 L124.89,286.11 L125.23,286.09 L125.56,286.07 L125.90,286.05 L126.23,286.03 L126.57,286.00 L126.91,285.97 L127.25,285.94 L127.59,285.91 L127.94,285.88 L128.28,285.85 L128.63,285.81 L128.97,285.77 L129.32,285.73 L129.67,285.69 L130.02,285.65 L130.38,285.61 L130.73,285.56 L131.08,285.52 L131.44,285.47 L131.80,285.42 L132.16,285.37 L132.52,285.32 L132.88,285.26 L133.24,285.21 L133.61,285.15 L133.97,285.09 L134.34,285.04 L134.71,284.98 L135.08,284.91 L135.45,284.85 L135.82,284.79 L136.19,284.72 L136.57,284.66 L136.95,284.59 L137.32,284.52 L137.70,284.46 L138.09,284.39 L138.47,284.32 L138.85,284.24 L139.24,284.17 L139.62,284.10 L140.01,284.02 L140.40,283.95 L140.79,283.87 L141.19,283.79 L141.58,283.71 L141.98,283.64 L142.37,283.56 L142.77,283.47 L143.17,283.39 L143.57,283.31 L143.98,283.23 L144.38,283.14 L144.79,283.06 L145.19,282.97 L145.60,282.89 L146.01,282.80 L146.43,282.71 L146.84,282.62 L147.26,282.54 L147.67,282.45 L148.09,282.36 L148.51,282.26 L148.93,282.17 L149.36,282.08 L149.78,281.99 L150.21,281.90 L150.63,281.80 L151.06,281.71 L151.50,281.61 L151.93,281.52 L152.36,281.42 L152.80,281.33 L153.24,281.23 L153.68,281.13 L154.12,281.03 L154.56,280.94 L155.00,280.84 L155.45,280.74 L155.90,280.64 L156.35,280.54 L156.80,280.44 L157.25,280.34 L157.70,280.24 L158.16,280.14 L158.62,280.04 L159.08,279.94 L159.54,279.83 L160.00,279.73 L160.47,279.63 L160.93,279.53 L161.40,279.42 L161.87,279.32 L162.34,279.22 L162.82,279.11 L163.29,279.01 L163.77,278.90 L164.25,278.80 L164.73,278.69 L165.21,278.59 L165.69,278.48 L166.18,278.38 L166.67,278.27 L167.16,278.17 L167.65,278.06 L168.14,277.95 L168.64,277.85 L169.14,277.74 L169.63,277.64 L170.13,277.53 L170.64,277.42 L171.14,277.32 L171.65,277.21 L172.16,277.10 L172.67,276.99 L173.18,276.89 L173.69,276.78 L174.21,276.67 L174.73,276.56 L175.25,276.46 L175.77,276.35 L176.29,276.24 L176.82,276.13 L177.35,276.03 L177.88,275.92 L178.41,275.81 L178.94,275.70 L179.48,275.60 L180.02,275.49 L180.55,275.38 L181.10,275.27 L181.64,275.16 L182.19,275.05 L182.73,274.95 L183.28,274.84 L183.84,274.73 L184.39,274.62 L184.95,274.51 L185.50,274.41 L186.06,274.30 L186.63,274.19 L187.19,274.08 L187.76,273.97 L188.33,273.87 L188.90,273.76 L189.47,273.65 L190.05,273.54 L190.62,273.44 L191.20,273.33 L191.79,273.22 L192.37,273.11 L192.96,273.01 L193.54,272.90 L194.13,272.79 L194.73,272.68 L195.32,272.58 L195.92,272.47 L196.52,272.36 L197.12,272.26 L197.72,272.15 L198.33,272.04 L198.94,271.93 L199.55,271.83 L200.16,271.72 L200.78,271.62 L201.39,271.51 L202.01,271.40 L202.64,271.30 L203.26,271.19 L203.89,271.08 L204.52,270.98 L205.15,270.87 L205.78,270.77 L206.42,270.66 L207.06,270.56 L207.70,270.45 L208.34,270.35 L208.99,270.24 L209.64,270.14 L210.29,270.03 L210.94,269.93 L211.60,269.82 L212.26,269.72 L212.92,269.62 L213.58,269.51 L214.25,269.41 L214.91,269.31 L215.58,269.20 L216.26,269.10 L216.93,269.00 L217.61,268.89 L218.29,268.79 L218.97,268.69 L219.66,268.59 L220.35,268.48 L221.04,268.38 L221.73,268.28 L222.43,268.18 L223.13,268.08 L223.83,267.97 L224.53,267.87 L225.24,267.77 L225.95,267.67 L226.66,267.57 L227.38,267.47 L228.09,267.37 L228.81,267.27 L229.54,267.17 L230.26,267.07 L230.99,266.97 L231.72,266.87 L232.46,266.77 L233.19,266.67 L233.93,266.58 L234.67,266.48 L235.42,266.38 L236.17,266.28 L236.92,266.18 L237.67,266.08 L238.42,265.99 L239.18,265.89 L239.95,265.79 L240.71,265.70 L241.48,265.60 L242.25,265.50 L243.02,265.41 L243.80,265.31 L244.58,265.21 L245.36,265.12 L246.14,265.02 L246.93,264.93 L247.72,264.83 L248.51,264.74 L249.31,264.64 L250.11,264.55 L250.91,264.46 L251.72,264.36 L252.53,264.27 L253.34,264.18 L254.15,264.08 L254.97,263.99 L255.79,263.90 L256.62,263.80 L257.44,263.71 L258.27,263.62 L259.11,263.53 L259.94,263.44 L260.78,263.34 L261.63,263.25 L262.47,263.16 L263.32,263.07 L264.17,262.98 L265.03,262.89 L265.89,262.80 L266.75,262.71 L267.61,262.62 L268.48,262.53 L269.35,262.44 L270.23,262.35 L271.11,262.27 L271.99,262.18 L272.87,262.09 L273.76,262.00 L274.65,261.91 L275.55,261.83 L276.44,261.74 L277.35,261.65 L278.25,261.57 L279.16,261.48 L280.07,261.39 L280.98,261.31 L281.90,261.22 L282.83,261.14 L283.75,261.05 L284.68,260.97 L285.61,260.88 L286.55,260.80 L287.49,260.71 L288.43,260.63 L289.38,260.54 L290.33,260.46 L291.28,260.38 L292.24,260.29 L293.20,260.21 L294.16,260.13 L295.13,260.05 L296.10,259.96 L297.08,259.88 L298.05,259.80 L299.04,259.72 L300.02,259.64 L301.01,259.56 L302.01,259.48 L303.00,259.40 L304.00,259.32 L305.01,259.24 L306.02,259.16 L307.03,259.08 L308.05,259.00 L309.07,258.92 L310.09,258.84 L311.12,258.76 L312.15,258.68 L313.18,258.60 L314.22,258.53 L315.27,258.45 L316.31,258.37 L317.36,258.29 L318.42,258.22 L319.48,258.14 L320.54,258.06 L321.61,257.99 L322.68,257.91 L323.75,257.84 L324.83,257.76 L325.91,257.69 L327.00,257.61 L328.09,257.54 L329.19,257.46 L330.29,257.39 L331.39,257.31 L332.50,257.24 L333.61,257.17 L334.73,257.09 L335.85,257.02 L336.97,256.95 L338.10,256.87 L339.23,256.80 L340.37,256.73 L341.51,256.66 L342.65,256.59 L343.80,256.51 L344.96,256.44 L346.12,256.37 L347.28,256.30 L348.45,256.23 L349.62,256.16 L350.79,256.09 L351.97,256.02 L353.16,255.95 L354.35,255.88 L355.54,255.81 L356.74,255.74 L357.94,255.68 L359.15,255.61 L360.36,255.54 L361.58,255.47 L362.80,255.40 L364.02,255.34 L365.25,255.27 L366.49,255.20 L367.73,255.13 L368.97,255.07 L370.22,255.00 L371.47,254.94 L372.73,254.87 L373.99,254.80 L375.26,254.74 L376.53,254.67 L377.81,254.61 L379.09,254.54 L380.37,254.48 L381.67,254.41 L382.96,254.35 L384.26,254.29 L385.57,254.22 L386.88,254.16 L388.19,254.10 L389.51,254.03 L390.84,253.97 L392.17,253.91 L393.51,253.85 L394.85,253.78 L396.19,253.72 L397.54,253.66 L398.90,253.60 L400.26,253.54 L401.62,253.48 L403.00,253.42 L404.37,253.35 L405.75,253.29 L407.14,253.23 L408.53,253.17 L409.93,253.11 L411.33,253.05 L412.74,253.00 L414.15,252.94 L415.57,252.88 L416.99,252.82 L418.42,252.76 L419.85,252.70 L421.29,252.64 L422.74,252.59 L424.19,252.53 L425.64,252.47 L427.10,252.41 L428.57,252.36 L430.04,252.30 L431.52,252.24 L433.00,252.19 L434.49,252.13 L435.98,252.07 L437.48,252.02 L438.99,251.96 L440.50,251.91 L442.02,251.85 L443.54,251.80 L445.07,251.74 L446.60,251.69 L448.14,251.63 L449.69,251.58 L451.24,251.53 L452.79,251.47 L454.36,251.42 L455.93,251.37 L457.50,251.31 L459.08,251.26 L460.67,251.21 L462.26,251.15 L463.86,251.10 L465.46,251.05 L467.07,251.00 L468.69,250.95 L470.31,250.89 L471.94,250.84 L473.57,250.79 L475.21,250.74 L476.86,250.69 L478.51,250.64 L480.17,250.59 L481.84,250.54 L483.51,250.49 L485.19,250.44 L486.87,250.39 L488.56,250.34 L490.26,250.29 L491.96,250.24 L493.67,250.19 L495.39,250.14 L497.11,250.09 L498.84,250.05 L500.58,250.00 L502.32,249.95 L504.07,249.90 L505.82,249.85 L507.58,249.81 L509.35,249.76 L511.13,249.71 L512.91,249.66 L514.70,249.62 L516.49,249.57 L518.29,249.52 L520.10,249.48 L521.92,249.43 L523.74,249.39 L525.57,249.34 L527.40,249.30 L529.25,249.25 L531.10,249.20 L532.95,249.16 L534.82,249.11 L536.69,249.07 L538.56,249.03 L540.45,248.98 L542.34,248.94 L544.24,248.89 L546.14,248.85 L548.06,248.81 L549.98,248.76 L551.90,248.72 L553.84,248.68 L555.78,248.63 L557.73,248.59 L559.69,248.55 L561.65,248.50 L563.62,248.46 L565.60,248.42 L567.58,248.38 L569.58,248.34 L571.58,248.29 L573.59,248.25 L575.60,248.21 L577.63,248.17 L579.66,248.13 L581.70,248.09 L583.74,248.05 L585.80,248.01 L587.86,247.97 L589.93,247.93 L592.00,247.89 L594.09,247.85 L596.18,247.81 L598.28,247.77 L600.39,247.73 L602.51,247.69 L604.63,247.65 L606.76,247.61 L608.90,247.57 L611.05,247.53 L613.21,247.49 L615.37,247.46 L617.55,247.42 L619.73,247.38 L621.91,247.34 L624.11,247.30 L626.32,247.27 L628.53,247.23 L630.75,247.19 L632.98,247.15 L635.22,247.12 L637.47,247.08 L639.72,247.04 L641.99,247.01 L644.26,246.97 L646.54,246.93 L648.83,246.90 L651.13,246.86 L653.43,246.83 L655.75,246.79 L658.07,246.75 L660.41,246.72 L662.75,246.68 L665.10,246.65 L667.46,246.61 L669.82,246.58 L672.20,246.54 L674.59,246.51 L676.98,246.48 L679.39,246.44 L681.80,246.41 L684.22,246.37 L686.65,246.34 L689.09,246.30 L691.54,246.27 L694.00,246.24 L696.46,246.20 L698.94,246.17 L701.43,246.14 L703.92,246.11 L706.43,246.07 L708.94,246.04 L711.46,246.01 L714.00,245.97 L716.54,245.94 L719.09,245.91 L721.65,245.88 L724.22,245.85 L726.81,245.81 L729.40,245.78 L732.00,245.75 L734.61,245.72 L737.23,245.69 L739.86,245.66 L742.49,245.63 L745.14,245.59 L747.80,245.56 L750.47,245.53 L753.15,245.50 L755.84,245.47 L758.54,245.44 L761.25,245.41 L763.97,245.38 L766.70,245.35 L769.44,245.32 L772.19,245.29 L774.95,245.26 L777.72,245.23 L780.50,245.20 L783.29,245.17 L786.10,245.15 L788.91,245.12 L791.73,245.09 L794.57,245.06 L797.41,245.03 L800.27,245.00 L803.13,244.97 L806.01,244.95 L808.90,244.92 L811.79,244.89 L814.70,244.86 L817.62,244.83 L820.56,244.81 L823.50,244.78" stroke="#0000ff"/>
<path d="M85.99,29.48 L86.18,32.40 L86.37,35.29 L86.55,38.16 L86.74,40.99 L86.93,43.79 L87.12,46.57 L87.32,49.31 L87.51,52.03 L87.70,54.72 L87.89,57.38 L88.09,60.01 L88.28,62.62 L88.48,65.20 L88.68,67.75 L88.87,70.27 L89.07,72.77 L89.27,75.24 L89.47,77.68 L89.67,80.10 L89.87,82.50 L90.07,84.86 L90.27,87.21 L90.48,89.52 L90.68,91.82 L90.89,94.08 L91.09,96.33 L91.30,98.55 L91.50,100.74 L91.71,102.91 L91.92,105.06 L92.13,107.19 L92.34,109.29 L92.55,111.37 L92.76,113.43 L92.98,115.46 L93.19,117.47 L93.40,119.47 L93.62,121.43 L93.83,123.38 L94.05,125.31 L94.27,127.21 L94.49,129.09 L94.70,130.96 L94.92,132.80 L95.14,134.62 L95.37,136.42 L95.59,138.20 L95.81,139.96 L96.04,141.70 L96.26,143.43 L96.49,145.13 L96.71,146.81 L96.94,148.48 L97.17,150.12 L97.40,151.75 L97.63,153.36 L97.86,154.95 L98.09,156.52 L98.32,158.08 L98.55,159.61 L98.79,161.13 L99.02,162.63 L99.26,164.12 L99.50,165.58 L99.73,167.03 L99.97,168.47 L100.21,169.88 L100.45,171.28 L100.69,172.67 L100.94,174.03 L101.18,175.38 L101.42,176.72 L101.67,178.04 L101.92,179.34 L102.16,180.63 L102.41,181.91 L102.66,183.16 L102.91,184.41 L103.16,185.64 L103.41,186.85 L103.66,188.05 L103.92,189.23 L104.17,190.40 L104.43,191.56 L104.68,192.70 L104.94,193.83 L105.20,194.94 L105.46,196.04 L105.72,197.13 L105.98,198.20 L106.24,199.26 L106.50,200.31 L106.77,201.35 L107.03,202.37 L107.30,203.38 L107.56,204.37 L107.83,205.36 L108.10,206.33 L108.37,207.29 L108.64,208.23 L108.92,209.17 L109.19,210.09 L109.46,211.00 L109.74,211.90 L110.01,212.78 L110.29,213.66 L110.57,214.52 L110.85,215.37 L111.13,216.21 L111.41,217.04 L111.69,217.86 L111.98,218.66 L112.26,219.46 L112.55,220.24 L112.83,221.01 L113.12,221.77 L113.41,222.52 L113.70,223.26 L113.99,223.99 L114.28,224.70 L114.58,225.41 L114.87,226.11 L115.17,226.79 L115.46,227.47 L115.76,228.13 L116.06,228.78 L116.36,229.43 L116.66,230.06 L116.96,230.68 L117.26,231.30 L117.57,231.90 L117.87,232.49 L118.18,233.08 L118.49,233.65 L118.80,234.22 L119.11,234.77 L119.42,235.31 L119.73,235.85 L120.05,236.38 L120.36,236.89 L120.68,237.40 L120.99,237.90 L121.31,238.39 L121.63,238.86 L121.95,239.33 L122.27,239.80 L122.60,240.25 L122.92,240.69 L123.25,241.13 L123.57,241.56 L123.90,241.98 L124.23,242.39 L124.56,242.79 L124.89,243.19 L125.23,243.58 L125.56,243.96 L125.90,244.33 L126.23,244.70 L126.57,245.06 L126.91,245.41 L127.25,245.75 L127.59,246.09 L127.94,246.43 L128.28,246.75 L128.63,247.07 L128.97,247.38 L129.32,247.69 L129.67,247.99 L130.02,248.29 L130.38,248.58 L130.73,248.86 L131.08,249.14 L131.44,249.41 L131.80,249.68 L132.16,249.94 L132.52,250.20 L132.88,250.45 L133.24,250.70 L133.61,250.94 L133.97,251.18 L134.34,251.41 L134.71,251.64 L135.08,251.87 L135.45,252.09 L135.82,252.30 L136.19,252.51 L136.57,252.72 L136.95,252.92 L137.32,253.12 L137.70,253.32 L138.09,253.51 L138.47,253.70 L138.85,253.88 L139.24,254.06 L139.62,254.24 L140.01,254.41 L140.40,254.58 L140.79,254.74 L141.19,254.91 L141.58,255.07 L141.98,255.22 L142.37,255.37 L142.77,255.52 L143.17,255.67 L143.57,255.81 L143.98,255.95 L144.38,256.08 L144.79,256.22 L145.19,256.34 L145.60,256.47 L146.01,256.60 L146.43,256.72 L146.84,256.83 L147.26,256.95 L147.67,257.06 L148.09,257.17 L148.51,257.28 L148.93,257.38 L149.36,257.48 L149.78,257.58 L150.21,257.68 L150.63,257.77 L151.06,257.87 L151.50,257.96 L151.93,258.04 L152.36,258.13 L152.80,258.21 L153.24,258.29 L153.68,258.37 L154.12,258.44 L154.56,258.52 L155.00,258.59 L155.45,258.66 L155.90,258.72 L156.35,258.79 L156.80,258.85 L157.25,258.91 L157.70,258.97 L158.16,259.03 L158.62,259.08 L159.08,259.14 L159.54,259.19 L160.00,259.24 L160.47,259.28 L160.93,259.33 L161.40,259.37 L161.87,259.42 L162.34,259.46 L162.82,259.50 L163.29,259.53 L163.77,259.57 L164.25,259.60 L164.73,259.64 L165.21,259.67 L165.69,259.70 L166.18,259.73 L166.67,259.75 L167.16,259.78 L167.65,259.80 L168.14,259.82 L168.64,259.84 L169.14,259.86 L169.63,259.88 L170.13,259.90 L170.64,259.91 L171.14,259.93 L171.65,259.94 L172.16,259.95 L172.67,259.96 L173.18,259.97 L173.69,259.98 L174.21,259.99 L174.73,259.99 L175.25,260.00 L175.77,260.00 L176.29,260.00 L176.82,260.00 L177.35,260.00 L177.88,260.00 L178.41,260.00 L178.94,260.00 L179.48,259.99 L180.02,259.99 L180.55,259.98 L181.10,259.97 L181.64,259.97 L182.19,259.96 L182.73,259.95 L183.28,259.94 L183.84,259.93 L184.39,259.91 L184.95,259.90 L185.50,259.89 L186.06,259.87 L186.63,259.86 L187.19,259.84 L187.76,259.82 L188.33,259.81 L188.90,259.79 L189.47,259.77 L190.05,259.75 L190.62,259.73 L191.20,259.71 L191.79,259.68 L192.37,259.66 L192.96,259.64 L193.54,259.61 L194.13,259.59 L194.73,259.56 L195.32,259.54 L195.92,259.51 L196.52,259.48 L197.12,259.46 L197.72,259.43 L198.33,259.40 L198.94,259.37 L199.55,259.34 L200.16,259.31 L200.78,259.28 L201.39,259.24 L202.01,259.21 L202.64,259.18 L203.26,259.15 L203.89,259.11 L204.52,259.08 L205.15,259.04 L205.78,259.01 L206.42,258.97 L207.06,258.93 L207.70,258.90 L208.34,258.86 L208.99,258.82 L209.64,258.78 L210.29,258.75 L210.94,258.71 L211.60,258.67 L212.26,258.63 L212.92,258.59 L213.58,258.55 L214.25,258.51 L214.91,258.47 L215.58,258.42 L216.26,258.38 L216.93,258.34 L217.61,258.30 L218.29,258.25 L218.97,258.21 L219.66,258.17 L220.35,258.12 L221.04,258.08 L221.73,258.03 L222.43,257.99 L223.13,257.94 L223.83,257.90 L224.53,257.85 L225.24,257.81 L225.95,257.76 L226.66,257.72 L227.38,257.67 L228.09,257.62 L228.81,257.57 L229.54,257.53 L230.26,257.48 L230.99,257.43 L231.72,257.38 L232.46,257.34 L233.19,257.29 L233.93,257.24 L234.67,257.19 L235.42,257.14 L236.17,257.09 L236.92,257.04 L237.67,256.99 L238.42,256.94 L239.18,256.89 L239.95,256.84 L240.71,256.79 L241.48,256.74 L242.25,256.69 L243.02,256.64 L243.80,256.59 L244.58,256.54 L245.36,256.49 L246.14,256.44 L246.93,256.39 L247.72,256.33 L248.51,256.28 L249.31,256.23 L250.11,256.18 L250.91,256.13 L251.72,256.08 L252.53,256.02 L253.34,255.97 L254.15,255.92 L254.97,255.87 L255.79,255.81 L256.62,255.76 L257.44,255.71 L258.27,255.66 L259.11,255.60 L259.94,255.55 L260.78,255.50 L261.63,255.45 L262.47,255.39 L263.32,255.34 L264.17,255.29 L265.03,255.23 L265.89,255.18 L266.75,255.13 L267.61,255.08 L268.48,255.02 L269.35,254.97 L270.23,254.92 L271.11,254.86 L271.99,254.81 L272.87,254.76 L273.76,254.70 L274.65,254.65 L275.55,254.60 L276.44,254.54 L277.35,254.49 L278.25,254.44 L279.16,254.38 L280.07,254.33 L280.98,254.28 L281.90,254.22 L282.83,254.17 L283.75,254.12 L284.68,254.07 L285.61,254.01 L286.55,253.96 L287.49,253.91 L288.43,253.85 L289.38,253.80 L290.33,253.75 L291.28,253.69 L292.24,253.64 L293.20,253.59 L294.16,253.54 L295.13,253.48 L296.10,253.43 L297.08,253.38 L298.05,253.33 L299.04,253.27 L300.02,253.22 L301.01,253.17 L302.01,253.12 L303.00,253.06 L304.00,253.01 L305.01,252.96 L306.02,252.91 L307.03,252.86 L308.05,252.80 L309.07,252.75 L310.09,252.70 L311.12,252.65 L312.15,252.60 L313.18,252.55 L314.22,252.49 L315.27,252.44 L316.31,252.39 L317.36,252.34 L318.42,252.29 L319.48,252.24 L320.54,252.19 L321.61,252.14 L322.68,252.09 L323.75,252.03 L324.83,251.98 L325.91,251.93 L327.00,251.88 L328.09,251.83 L329.19,251.78 L330.29,251.73 L331.39,251.68 L332.50,251.63 L333.61,251.58 L334.73,251.53 L335.85,251.48 L336.97,251.43 L338.10,251.38 L339.23,251.34 L340.37,251.29 L341.51,251.24 L342.65,251.19 L343.80,251.14 L344.96,251.09 L346.12,251.04 L347.28,250.99 L348.45,250.95 L349.62,250.90 L350.79,250.85 L351.97,250.80 L353.16,250.75 L354.35,250.70 L355.54,250.66 L356.74,250.61 L357.94,250.56 L359.15,250.51 L360.36,250.47 L361.58,250.42 L362.80,250.37 L364.02,250.33 L365.25,250.28 L366.49,250.23 L367.73,250.19 L368.97,250.14 L370.22,250.09 L371.47,250.05 L372.73,250.00 L373.99,249.96 L375.26,249.91 L376.53,249.86 L377.81,249.82 L379.09,249.77 L380.37,249.73 L381.67,249.68 L382.96,249.64 L384.26,249.59 L385.57,249.55 L386.88,249.50 L388.19,249.46 L389.51,249.42 L390.84,249.37 L392.17,249.33 L393.51,249.28 L394.85,249.24 L396.19,249.20 L397.54,249.15 L398.90,249.11 L400.26,249.07 L401.62,249.02 L403.00,248.98 L404.37,248.94 L405.75,248.90 L407.14,248.85 L408.53,248.81 L409.93,248.77 L411.33,248.73 L412.74,248.68 L414.15,248.64 L415.57,248.60 L416.99,248.56 L418.42,248.52 L419.85,248.48 L421.29,248.43 L422.74,248.39 L424.19,248.35 L425.64,248.31 L427.10,248.27 L428.57,248.23 L430.04,248.19 L431.52,248.15 L433.00,248.11 L434.49,248.07 L435.98,248.03 L437.48,247.99 L438.99,247.95 L440.50,247.91 L442.02,247.87 L443.54,247.83 L445.07,247.79 L446.60,247.76 L448.14,247.72 L449.69,247.68 L451.24,247.64 L452.79,247.60 L454.36,247.56 L455.93,247.53 L457.50,247.49 L459.08,247.45 L460.67,247.41 L462.26,247.38 L463.86,247.34 L465.46,247.30 L467.07,247.26 L468.69,247.23 L470.31,247.19 L471.94,247.15 L473.57,247.12 L475.21,247.08 L476.86,247.04 L478.51,247.01 L480.17,246.97 L481.84,246.94 L483.51,246.90 L485.19,246.87 L486.87,246.83 L488.56,246.80 L490.26,246.76 L491.96,246.73 L493.67,246.69 L495.39,246.66 L497.11,246.62 L498.84,246.59 L500.58,246.55 L502.32,246.52 L504.07,246.48 L505.82,246.45 L507.58,246.42 L509.35,246.38 L511.13,246.35 L512.91,246.32 L514.70,246.28 L516.49,246.25 L518.29,246.22 L520.10,246.18 L521.92,246.15 L523.74,246.12 L525.57,246.09 L527.40,246.05 L529.25,246.02 L531.10,245.99 L532.95,245.96 L534.82,245.93 L536.69,245.89 L538.56,245.86 L540.45,245.83 L542.34,245.80 L544.24,245.77 L546.14,245.74 L548.06,245.71 L549.98,245.68 L551.90,245.65 L553.84,245.61 L555.78,245.58 L557.73,245.55 L559.69,245.52 L561.65,245.49 L563.62,245.46 L565.60,245.43 L567.58,245.40 L569.58,245.38 L571.58,245.35 L573.59,245.32 L575.60,245.29 L577.63,245.26 L579.66,245.23 L581.70,245.20 L583.74,245.17 L585.80,245.14 L587.86,245.12 L589.93,245.09 L592.00,245.06 L594.09,245.03 L596.18,245.00 L598.28,244.98 L600.39,244.95 L602.51,244.92 L604.63,244.89 L606.76,244.87 L608.90,244.84 L611.05,244.81 L613.21,244.78 L615.37,244.76 L617.55,244.73 L619.73,244.70 L621.91,244.68 L624.11,244.65 L626.32,244.63 L628.53,244.60 L630.75,244.57 L632.98,244.55 L635.22,244.52 L637.47,244.50 L639.72,244.47 L641.99,244.44 L644.26,244.42 L646.54,244.39 L648.83,244.37 L651.13,244.34 L653.43,244.32 L655.75,244.29 L658.07,244.27 L660.41,244.24 L662.75,244.22 L665.10,244.20 L667.46,244.17 L669.82,244.15 L672.20,244.12 L674.59,244.10 L676.98,244.08 L679.39,244.05 L681.80,244.03 L684.22,244.01 L686.65,243.98 L689.09,243.96 L691.54,243.94 L694.00,243.91 L696.46,243.89 L698.94,243.87 L701.43,243.84 L703.92,243.82 L706.43,243.80 L708.94,243.78 L711.46,243.75 L714.00,243.73 L716.54,243.71 L719.09,243.69 L721.65,243.67 L724.22,243.64 L726.81,243.62 L729.40,243.60 L732.00,243.58 L734.61,243.56 L737.23,243.54 L739.86,243.51 L742.49,243.49 L745.14,243.47 L747.80,243.45 L750.47,243.43 L753.15,243.41 L755.84,243.39 L758.54,243.37 L761.25,243.35 L763.97,243.33 L766.70,243.31 L769.44,243.29 L772.19,243.27 L774.95,243.25 L777.72,243.23 L780.50,243.21 L783.29,243.19 L786.10,243.17 L788.91,243.15 L791.73,243.13 L794.57,243.11 L797.41,243.09 L800.27,243.07 L803.13,243.05 L806.01,243.03 L808.90,243.02 L811.79,243.00 L814.70,242.98 L817.62,242.96 L820.56,242.94 L823.50,242.92" stroke="#00ff00"/>
</g>
<g stroke="#969696" stroke-width="1" fill="none"><line x1="36.1" y1="42.3" x2="36.1" y2="530.15"/><line x1="36.1" y1="286.2" x2="822.74" y2="286.2"/></g>
<g stroke="#8c8c8c" stroke-width="1" fill="none"><line x1="36.1" y1="529.65" x2="40.300000000000004" y2="529.65"/><line x1="36.1" y1="505.30" x2="40.300000000000004" y2="505.30"/><line x1="36.1" y1="480.96" x2="43.1" y2="480.96"/><line x1="36.1" y1="456.62" x2="40.300000000000004" y2="456.62"/><line x1="36.1" y1="432.27" x2="40.300000000000004" y2="432.27"/><line x1="36.1" y1="407.92" x2="40.300000000000004" y2="407.92"/><line x1="36.1" y1="383.58" x2="43.1" y2="383.58"/><line x1="36.1" y1="359.24" x2="40.300000000000004" y2="359.24"/><line x1="36.1" y1="334.89" x2="40.300000000000004" y2="334.89"/><line x1="36.1" y1="310.54" x2="40.300000000000004" y2="310.54"/><line x1="36.1" y1="286.20" x2="43.1" y2="286.20"/><line x1="36.1" y1="261.86" x2="40.300000000000004" y2="261.86"/><line x1="36.1" y1="237.51" x2="40.300000000000004" y2="237.51"/><line x1="36.1" y1="213.16" x2="40.300000000000004" y2="213.16"/><line x1="36.1" y1="188.82" x2="43.1" y2="188.82"/><line x1="36.1" y1="164.47" x2="40.300000000000004" y2="164.47"/><line x1="36.1" y1="140.13" x2="40.300000000000004" y2="140.13"/><line x1="36.1" y1="115.78" x2="40.300000000000004" y2="115.78"/><line x1="36.1" y1="91.44" x2="43.1" y2="91.44"/><line x1="36.1" y1="67.09" x2="40.300000000000004" y2="67.09"/><line x1="36.1" y1="42.75" x2="40.300000000000004" y2="42.75"/><line x1="85.27" y1="286.2" x2="85.27" y2="282.0"/><line x1="134.43" y1="286.2" x2="134.43" y2="282.0"/><line x1="183.59" y1="286.2" x2="183.59" y2="282.0"/><line x1="232.76" y1="286.2" x2="232.76" y2="279.2"/><line x1="281.93" y1="286.2" x2="281.93" y2="282.0"/><line x1="331.09" y1="286.2" x2="331.09" y2="282.0"/><line x1="380.25" y1="286.2" x2="380.25" y2="282.0"/><line x1="429.42" y1="286.2" x2="429.42" y2="279.2"/><line x1="478.59" y1="286.2" x2="478.59" y2="282.0"/><line x1="527.75" y1="286.2" x2="527.75" y2="282.0"/><line x1="576.91" y1="286.2" x2="576.91" y2="282.0"/><line x1="626.08" y1="286.2" x2="626.08" y2="279.2"/><line x1="675.25" y1="286.2" x2="675.25" y2="282.0"/><line x1="724.41" y1="286.2" x2="724.41" y2="282.0"/><line x1="773.58" y1="286.2" x2="773.58" y2="282.0"/><line x1="822.74" y1="286.2" x2="822.74" y2="279.2"/></g>
<line x1="665" y1="351.5" x2="715.2" y2="351.5" stroke="#ff0000" stroke-width="4.4"/>
<line x1="665" y1="403.7" x2="715.2" y2="403.7" stroke="#ff8000" stroke-width="4.4"/>
<line x1="665" y1="455.9" x2="715.2" y2="455.9" stroke="#0000ff" stroke-width="4.4"/>
<line x1="665" y1="508.1" x2="715.2" y2="508.1" stroke="#00ff00" stroke-width="4.4"/>
<g font-family="'Liberation Sans', sans-serif" font-weight="bold" fill="#000"><text transform="translate(28.8,99.94) scale(1,1.055)" text-anchor="end" font-size="24.4" >4</text><text transform="translate(28.8,197.32) scale(1,1.055)" text-anchor="end" font-size="24.4" >2</text><text transform="translate(28.8,294.7) scale(1,1.055)" text-anchor="end" font-size="24.4" >0</text><text transform="translate(28.8,392.08) scale(1,1.055)" text-anchor="end" font-size="24.4" >2</text><text transform="translate(6.55,392.97999999999996) scale(1,1.0)" text-anchor="middle" font-size="21.5" >−</text><text transform="translate(28.8,489.46) scale(1,1.055)" text-anchor="end" font-size="24.4" >4</text><text transform="translate(6.55,490.35999999999996) scale(1,1.0)" text-anchor="middle" font-size="21.5" >−</text><text transform="translate(232.95999999999998,316.4) scale(1,1.055)" text-anchor="middle" font-size="24.4" >2</text><text transform="translate(429.62,316.4) scale(1,1.055)" text-anchor="middle" font-size="24.4" >4</text><text transform="translate(626.2800000000001,316.4) scale(1,1.055)" text-anchor="middle" font-size="24.4" >6</text><text transform="translate(822.94,316.4) scale(1,1.055)" text-anchor="middle" font-size="24.4" >8</text><text transform="translate(36.2,22.5) scale(1,1.0)" text-anchor="middle" font-size="24.4" >h</text><text transform="translate(729.9,361.7) scale(1,1.05)" text-anchor="start" font-size="29.7" >0.05</text><text transform="translate(729.9,413.9) scale(1,1.05)" text-anchor="start" font-size="29.7" >0.1</text><text transform="translate(729.9,466.09999999999997) scale(1,1.05)" text-anchor="start" font-size="29.7" >0.1553</text><text transform="translate(729.9,518.3000000000001) scale(1,1.05)" text-anchor="start" font-size="29.7" >0.2</text><text x="844.6" y="293" font-size="24.5" font-style="italic">r</text><text x="857.7" y="293.4" font-size="21.4">/</text><text x="865.7" y="293" font-size="24.5" font-style="italic">r</text><text transform="translate(879.3,299.7) scale(1,1.055)" font-size="22" font-style="italic">N</text><path d="M847.6,276.7 q1.6,-2.2 3.6,-0.9 t3.6,-0.9 M868.9,276.7 q1.6,-2.2 3.6,-0.9 t3.6,-0.9" stroke="#000" stroke-width="2.1" fill="none"/></g>
</svg></body></html>
